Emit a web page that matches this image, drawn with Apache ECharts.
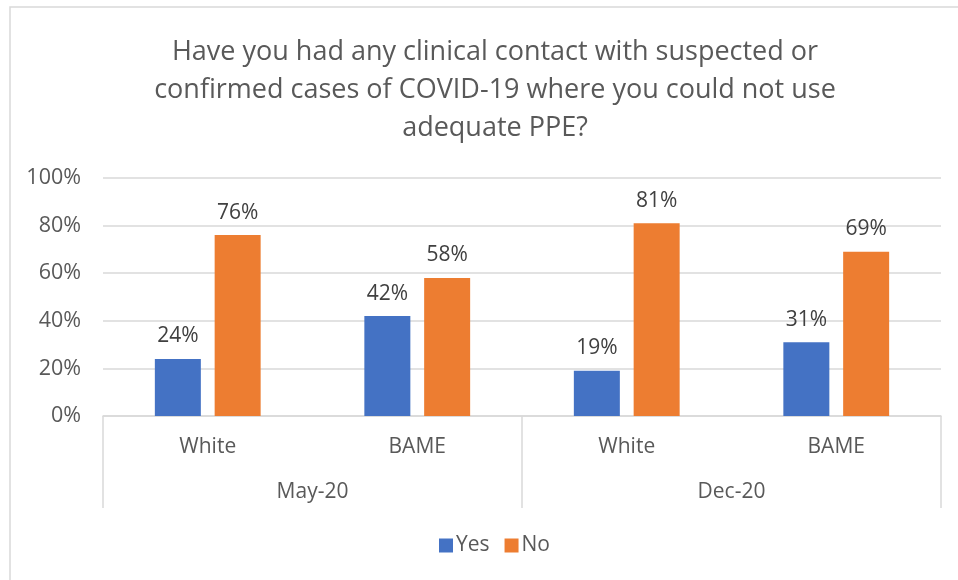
<!DOCTYPE html>
<html>
<head>
<meta charset="utf-8">
<script src="https://cdn.jsdelivr.net/npm/echarts@6/dist/echarts.min.js"></script>
<style>
  html, body { margin: 0; padding: 0; background: #fff; }
  #main { width: 958px; height: 580px; }
</style>
</head>
<body>
<div id="main"></div>
<script>
var categories = ["White", "BAME", "White", "BAME"];
var periods = ["May-20", "Dec-20"];
var yesValues = [24, 42, 19, 31];
var noValues = [76, 58, 81, 69];
var titleText = "Have you had any clinical contact with suspected or\nconfirmed cases of COVID-19 where you could not use\nadequate PPE?";

var font = "Open Sans";
var chart = echarts.init(document.getElementById("main"));

var labelOpt = {
    show: true,
    position: "top",
    distance: 12,
    formatter: "{c}%",
    fontFamily: font,
    fontSize: 21,
    color: "#404040"
};

chart.setOption({
    animation: false,
    title: {
        text: titleText,
        left: 490,
        top: 28,
        textAlign: "center",
        textStyle: {
            fontFamily: font,
            fontSize: 27,
            fontWeight: "normal",
            color: "#595959",
            lineHeight: 38
        }
    },
    legend: {
        bottom: 19,
        left: 434,
        itemWidth: 14,
        itemHeight: 14,
        itemGap: 15,
        icon: "rect",
        textStyle: { fontFamily: font, fontSize: 21, color: "#595959", padding: [0, 0, 0, -2] }
    },
    grid: { left: 103, right: 17, top: 178, bottom: 164 },
    xAxis: [
        {
            type: "category",
            data: categories,
            axisLine: { lineStyle: { color: "#d9d9d9", width: 1.5 } },
            axisTick: { show: false },
            axisLabel: { fontFamily: font, fontSize: 21, color: "#595959", margin: 21 }
        },
        {
            type: "category",
            data: periods,
            position: "bottom",
            offset: 92,
            axisLine: { show: false },
            axisTick: { show: true, inside: true, length: 92, lineStyle: { color: "#d9d9d9", width: 1.5 } },
            axisLabel: { inside: true, fontFamily: font, fontSize: 21, color: "#595959", margin: 5 }
        }
    ],
    yAxis: {
        type: "value",
        min: 0,
        max: 100,
        interval: 20,
        axisLine: { show: false },
        axisTick: { show: false },
        splitLine: { lineStyle: { color: "#d9d9d9", width: 1.5 } },
        axisLabel: { formatter: "{value}%", fontFamily: font, fontSize: 21.5, color: "#595959", margin: 22 }
    },
    series: [
        {
            name: "Yes",
            type: "bar",
            data: yesValues,
            barWidth: 46,
            barGap: "30%",
            itemStyle: { color: "#4472c4" },
            label: labelOpt
        },
        {
            name: "No",
            type: "bar",
            data: noValues,
            barWidth: 46,
            itemStyle: { color: "#ed7d31" },
            label: labelOpt
        }
    ],
    graphic: [
        {
            type: "rect",
            shape: { x: 10, y: 7, width: 960, height: 600 },
            style: { fill: null, stroke: "#d9d9d9", lineWidth: 1.5 },
            silent: true
        }
    ]
});
</script>
</body>
</html>
